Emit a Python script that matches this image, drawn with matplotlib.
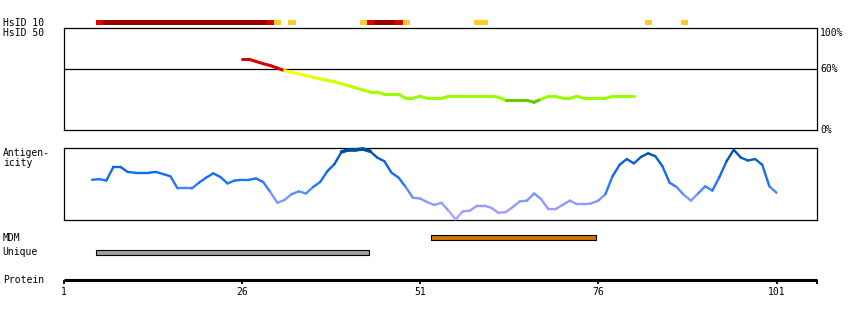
import numpy as np
import matplotlib
matplotlib.use("Agg")
import matplotlib.pyplot as plt
from matplotlib.collections import LineCollection
from matplotlib.colors import LinearSegmentedColormap, Normalize

# ---- data ----
tick_positions = [1, 26, 51, 76, 101]

# HsID 10 identity blocks (residue ranges) and their level
hsid10_start = [6, 7, 30, 31, 33, 43, 44, 45, 48, 49, 59, 83, 88]
hsid10_end = [6, 29, 30, 31, 33, 43, 44, 47, 48, 49, 60, 83, 88]
hsid10_level = ["mid", "high", "mid", "low", "low", "low", "mid", "high",
                "mid", "low", "low", "low", "low"]

# HsID 50 curve (% identity per residue)
hsid50_pos = np.arange(26, 82)
hsid50_pct = [69.6, 69.6, 67.5, 65.3, 63.5, 61.0, 58.5, 57.0, 55.2, 53.8,
              52.0, 50.3, 49.0, 47.6, 45.5, 43.7, 41.5, 39.5, 37.5, 37.5,
              35.3, 35.3, 35.3, 31.4, 31.4, 33.3, 31.4, 31.4, 31.4, 33.3,
              33.3, 33.3, 33.3, 33.3, 33.3, 33.3, 32.5, 29.4, 29.4, 29.4,
              29.4, 27.5, 30.5, 33.3, 33.3, 31.4, 31.4, 33.3, 31.4, 31.4,
              31.4, 31.4, 33.3, 33.3, 33.3, 33.3]

# antigenicity (relative score per residue)
ag_pos = np.arange(5, 102)
ag_score = [0.56, 0.57, 0.55, 0.74, 0.74, 0.67, 0.66, 0.66, 0.66, 0.67,
            0.64, 0.61, 0.44, 0.44, 0.44, 0.52, 0.59, 0.65, 0.60, 0.51,
            0.55, 0.56, 0.56, 0.58, 0.53, 0.39, 0.24, 0.28, 0.36, 0.40,
            0.37, 0.46, 0.53, 0.68, 0.78, 0.95, 0.98, 0.98, 0.99, 0.96,
            0.87, 0.82, 0.66, 0.59, 0.46, 0.31, 0.30, 0.25, 0.21, 0.24,
            0.13, 0.01, 0.12, 0.13, 0.20, 0.20, 0.17, 0.10, 0.11, 0.18,
            0.26, 0.27, 0.37, 0.29, 0.15, 0.15, 0.21, 0.27, 0.22, 0.22,
            0.23, 0.27, 0.36, 0.61, 0.77, 0.85, 0.79, 0.88, 0.93, 0.89,
            0.75, 0.52, 0.46, 0.35, 0.27, 0.37, 0.47, 0.41, 0.60, 0.82,
            0.98, 0.87, 0.83, 0.85, 0.77, 0.47, 0.38]

# features
feature_names = ["MDM", "Unique"]
feature_start = [52.6, 5.6]
feature_end = [75.7, 43.8]

# ---- layout (pixels) ----
W, H = 850, 320
X0, X1 = 63.5, 817.3
XLIM = (1, 1 + (X1 - X0) / 7.13)
MONO = "DejaVu Sans Mono"

fig = plt.figure(figsize=(W / 100, H / 100), dpi=100)


def px_axes(left, top, right, bottom):
    return fig.add_axes([left / W, 1 - bottom / H, (right - left) / W, (bottom - top) / H])


def label(x, y, s):
    fig.text(x / W, 1 - y / H, s, ha="left", va="center", fontsize=7, family=MONO)


def box(ax):
    ax.set_xticks([])
    ax.set_yticks([])
    for sp in ax.spines.values():
        sp.set_linewidth(0.9)


def colored_line(ax, x, y, colors, lw):
    pts = np.column_stack([x, y]).reshape(-1, 1, 2)
    segs = np.concatenate([pts[:-1], pts[1:]], axis=1)
    lc = LineCollection(segs, colors=colors, linewidths=lw, capstyle="round", zorder=3)
    lc.set_clip_on(False)
    ax.add_collection(lc)


# HsID 10 strip
ax_s = px_axes(X0, 20.3, X1, 24.7)
ax_s.set_xlim(*XLIM)
ax_s.set_ylim(0, 1)
ax_s.axis("off")
level_col = {"high": "#990000", "mid": "#DD0000", "low": "#FFCC22"}
for s, e, lv in zip(hsid10_start, hsid10_end, hsid10_level):
    ax_s.broken_barh([(s - 0.45, e - s + 1)], (0, 1), facecolors=level_col[lv])

# HsID 50 panel
ax_h = px_axes(X0, 28.3, X1, 130.3)
ax_h.set_xlim(*XLIM)
ax_h.set_ylim(0, 100)
box(ax_h)
ax_h.axhline(60, color="black", lw=0.9, zorder=2)
hs_cmap = LinearSegmentedColormap.from_list("hs", [
    (0.0, "#339900"), (0.295, "#66CC00"), (0.30, "#99FF00"), (0.35, "#99FF00"),
    (0.58, "#FFFF00"), (0.599, "#FFEE00"), (0.60, "#DD0000"), (0.8, "#DD0000"),
    (1.0, "#990000")])
hy = np.array(hsid50_pct)
colored_line(ax_h, hsid50_pos, hy, hs_cmap(Normalize(0, 100)(hy[:-1])), 2.2)
tr = ax_h.get_yaxis_transform()
ax_h.text(1.004, 100, "100%", transform=tr, va="top", ha="left", fontsize=7, family=MONO)
ax_h.text(1.004, 60, "60%", transform=tr, va="center", ha="left", fontsize=7, family=MONO)
ax_h.text(1.004, 0, "0%", transform=tr, va="center", ha="left", fontsize=7, family=MONO)

# antigenicity panel
ax_a = px_axes(X0, 148.3, X1, 220)
ax_a.set_xlim(*XLIM)
ax_a.set_ylim(0, 1)
box(ax_a)
ag_cmap = LinearSegmentedColormap.from_list("ag", [
    (0.0, "#B4AAFF"), (0.15, "#9C9CFF"), (0.3, "#7F99FF"), (0.42, "#4D88FF"),
    (0.5, "#2277FF"), (0.7, "#1166EE"), (0.85, "#0A5CCC"), (0.96, "#004C99"),
    (1.0, "#004C99")])
ay = np.array(ag_score)
mid = (ay[:-1] + ay[1:]) / 2
colored_line(ax_a, ag_pos, ay, ag_cmap(mid), np.where(mid > 0.95, 2.6, 1.7))

# features
ax_f = px_axes(X0, 230, X1, 260)
ax_f.set_xlim(*XLIM)
ax_f.set_ylim(260, 230)
ax_f.axis("off")
feat_style = {"MDM": ("#CC7700", 235.3, 5.0), "Unique": ("#A0A0A0", 250.0, 4.7)}
for name, s, e in zip(feature_names, feature_start, feature_end):
    col, top, hgt = feat_style[name]
    ax_f.broken_barh([(s, e - s)], (top, hgt), facecolors=col,
                     edgecolors="black", linewidth=0.8)

# protein axis
ax_p = px_axes(X0, 268, X1, 280)
ax_p.set_xlim(*XLIM)
for k in ("top", "left", "right"):
    ax_p.spines[k].set_visible(False)
ax_p.spines["bottom"].set_linewidth(2.2)
ax_p.spines["bottom"].set_capstyle("butt")
ax_p.set_yticks([])
ax_p.set_xticks(tick_positions + [XLIM[1]])
ax_p.set_xticklabels([str(t) for t in tick_positions] + [""], family=MONO)
ax_p.tick_params(axis="x", direction="out", length=3, width=1.3, labelsize=7, pad=2)
ax_p.patch.set_visible(False)

# left labels
label(2.7, 22.7, "HsID 10")
label(2.7, 32.7, "HsID 50")
label(3.3, 153, "Antigen-")
label(3.3, 163, "icity")
label(2.7, 238, "MDM")
label(2.7, 251.8, "Unique")
label(2.7, 279.7, "Protein")

fig.savefig("out.png", dpi=100)
